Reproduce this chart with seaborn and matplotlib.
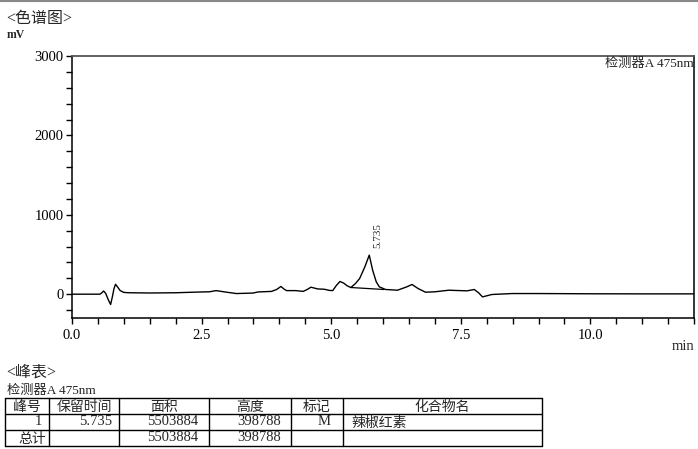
import matplotlib
matplotlib.use("Agg")
import matplotlib.pyplot as plt
from matplotlib.ticker import MultipleLocator
import seaborn as sns
import pandas as pd

# ---------------- data ----------------
time_min = [0.0, 0.54, 0.58, 0.61, 0.65, 0.70, 0.745, 0.78, 0.81, 0.84, 0.88, 0.93, 1.0,
            1.1, 1.5, 2.0, 2.5, 2.65, 2.78, 2.95, 3.17, 3.49, 3.59, 3.85, 3.95, 4.03,
            4.10, 4.14, 4.32, 4.46, 4.54, 4.61, 4.74, 4.87, 4.96, 5.03, 5.10, 5.17,
            5.24, 5.31, 5.38, 5.47, 5.55, 5.65, 5.735, 5.80, 5.87, 5.93, 6.05, 6.28,
            6.45, 6.56, 6.68, 6.82, 7.0, 7.27, 7.62, 7.76, 7.84, 7.92, 8.10, 8.49,
            9.0, 10.0, 11.0, 12.0]
signal_mv = [0, 0, 20, 40, 10, -70, -130, -30, 70, 125, 90, 45, 22,
             18, 15, 18, 28, 30, 45, 28, 8, 14, 28, 35, 60, 97,
             60, 45, 45, 35, 60, 88, 66, 62, 48, 45, 110, 160,
             140, 105, 84, 135, 198, 345, 492, 303, 155, 92, 59, 50,
             90, 122, 70, 25, 30, 50, 42, 59, 20, -34, -4, 8,
             8, 5, 4, 4]
baseline_t = [5.38, 6.02]
baseline_mv = [84, 59]
peak_rt = 5.735
peak_top_mv = 492
detector = "检测器A 475nm"

table_header = ["峰号", "保留时间", "面积", "高度", "标记", "化合物名"]
row_peak = ["1", "5.735", "5503884", "398788", "M", "辣椒红素"]
row_total = ["总计", "", "5503884", "398788", "", ""]

# ---------------- style ----------------
sns.set_style("ticks")
plt.rcParams["font.family"] = ["Liberation Serif", "Noto Sans CJK SC", "DejaVu Sans"]
plt.rcParams["axes.unicode_minus"] = False

W, H = 698, 449
fig = plt.figure(figsize=(W / 100, H / 100), dpi=100)
ax = fig.add_axes([72 / W, 1 - 318 / H, (694 - 72) / W, (318 - 56) / H])

df = pd.DataFrame({"t": time_min, "mv": signal_mv})
sns.lineplot(data=df, x="t", y="mv", ax=ax, color="black", linewidth=1.0,
             estimator=None, sort=False)
ax.plot(baseline_t, baseline_mv, color="black", linewidth=0.9)

ax.set_xlim(0, 12)
ax.set_ylim(-300, 3000)
ax.set_xlabel("")
ax.set_ylabel("")
ax.xaxis.set_major_locator(MultipleLocator(2.5))
ax.xaxis.set_minor_locator(MultipleLocator(0.5))
ax.yaxis.set_major_locator(MultipleLocator(1000))
ax.yaxis.set_minor_locator(MultipleLocator(200))
ax.xaxis.set_major_formatter(lambda v, p: f"{v:.1f}")
ax.yaxis.set_major_formatter(lambda v, p: f"{v:.0f}")
ax.tick_params(which="both", direction="out", length=4, width=1, colors="black",
               labelsize=10.5)
ax.tick_params(axis="x", pad=4)
ax.tick_params(axis="y", pad=2)
for s in ["left", "bottom", "right"]:
    ax.spines[s].set_color("black")
    ax.spines[s].set_linewidth(1.1)
ax.spines["right"].set_visible(True)
ax.spines["top"].set_visible(True)
ax.spines["top"].set_color("#555555")
ax.spines["top"].set_linewidth(1.3)

ax.annotate(f"{peak_rt:.3f}", xy=(peak_rt, peak_top_mv), xytext=(9, 7),
            textcoords="offset pixels", rotation=90, ha="center", va="bottom",
            fontsize=8)
ax.text(0.999, 0.993, detector, transform=ax.transAxes, ha="right", va="top",
        fontsize=9.5)

# ---------------- overlay in pixel coordinates ----------------
ov = fig.add_axes([0, 0, 1, 1], zorder=-1)
ov.set_xlim(0, W)
ov.set_ylim(H, 0)
ov.axis("off")
ov.axhline(0.8, color="#888888", linewidth=1.5)

ov.text(6, 19, "<色谱图>", fontsize=11.5, va="center", ha="left")
ov.text(7, 35, "mV", fontsize=8.5, va="center", ha="left", fontweight="bold")
ov.text(694, 347, "min", fontsize=10.5, va="center", ha="right")

ov.text(6, 373, "<峰表>", fontsize=11.5, va="center", ha="left")
ov.text(7, 391, detector, fontsize=9.5, va="center", ha="left")

cols = [5, 49, 119, 209, 291, 343, 542]
rows = [398, 413.5, 429.5, 445.5]
for y in rows:
    ov.plot([cols[0], cols[-1]], [y, y], color="black", linewidth=1)
for x in cols:
    ov.plot([x, x], [rows[0], rows[-1]], color="black", linewidth=1)


def is_cjk(s):
    return any(ord(c) > 0x2E80 for c in s)


def cell_y(r, s):
    return rows[r + 1] - (2.7 if is_cjk(s) else 4.2)


for i, h in enumerate(table_header):
    ov.text((cols[i] + cols[i + 1]) / 2, cell_y(0, h), h, fontsize=10,
            ha="center", va="baseline")

right_pos = [42, 112, 198, 281, 331]
for r, vals in zip([1, 2], [row_peak, row_total]):
    for i in range(5):
        if vals[i]:
            xr = 46 if (i == 0 and r == 2) else right_pos[i]
            fs = 10 if is_cjk(vals[i]) else 10.5
            ov.text(xr, cell_y(r, vals[i]), vals[i], fontsize=fs, ha="right",
                    va="baseline")
    if vals[5]:
        ov.text(351, cell_y(r, vals[5]), vals[5], fontsize=10, ha="left",
                va="baseline")

fig.savefig("out.png", dpi=100, facecolor="white")
